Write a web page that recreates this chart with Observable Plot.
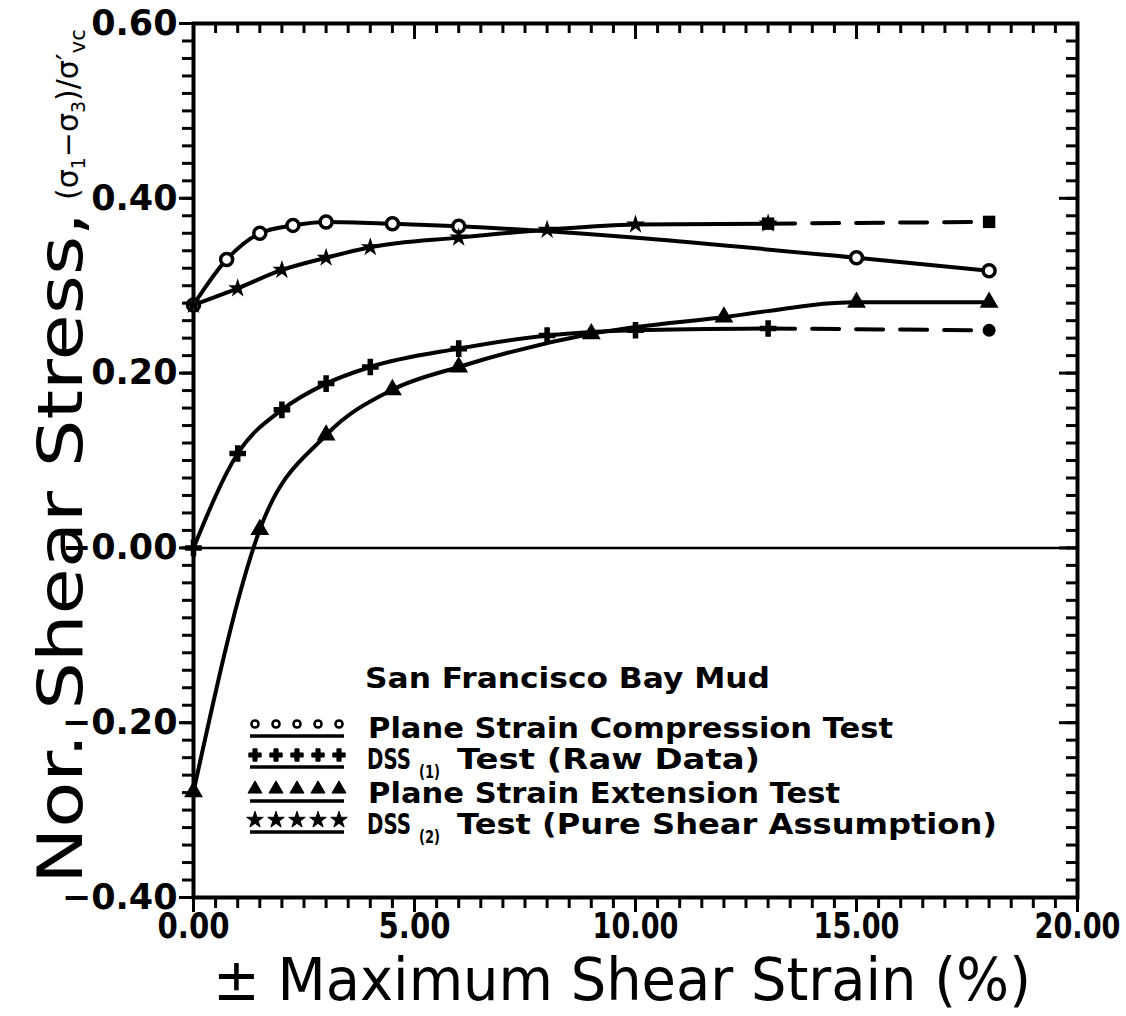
<!DOCTYPE html>
<html>
<head>
<meta charset="utf-8">
<script src="https://cdn.jsdelivr.net/npm/d3@7"></script>
<script src="https://cdn.jsdelivr.net/npm/@observablehq/plot@0.6"></script>
<style>
  html, body { margin: 0; padding: 0; background: #fff; }
  #chart svg { display: block; }
</style>
</head>
<body>
<div id="chart"></div>
<script>
// Plane strain compression test (open circles)
const pscStrain = [0, 0.75, 1.5, 2.25, 3, 4.5, 6, 15, 18];
const pscStress = [0.278, 0.330, 0.360, 0.369, 0.373, 0.371, 0.368, 0.332, 0.317];

// DSS(1) test, raw data (crosses); dashed extension ends with a dot
const dss1Strain = [0, 1, 2, 3, 4, 6, 8, 10, 13];
const dss1Stress = [0.0, 0.108, 0.158, 0.188, 0.207, 0.228, 0.243, 0.249, 0.251];
const dss1ExtStrain = [13, 18];
const dss1ExtStress = [0.251, 0.249];

// Plane strain extension test (triangles)
const pseStrain = [0, 1.5, 3, 4.5, 6, 9, 12, 15, 18];
const pseStress = [-0.279, 0.021, 0.129, 0.181, 0.207, 0.245, 0.264, 0.281, 0.281];

// DSS(2) test, pure shear assumption (stars); dashed extension ends with a square
const dss2Strain = [0, 1, 2, 3, 4, 6, 8, 10, 13];
const dss2Stress = [0.278, 0.297, 0.318, 0.332, 0.344, 0.355, 0.364, 0.370, 0.371];
const dss2ExtStrain = [13, 18];
const dss2ExtStress = [0.371, 0.373];

// Axis ticks and labels
const xMajor = [0, 5, 10, 15, 20];
const xLabels = ["0.00", "5.00", "10.00", "15.00", "20.00"];
const yMajor = [-0.4, -0.2, 0, 0.2, 0.4, 0.6];
const yLabels = ["\u22120.40", "\u22120.20", "\u22120.00", "0.20", "0.40", "0.60"];
const xMinor = d3.range(0, 20.0001, 0.5);
const yMinor = d3.range(-0.4, 0.6001, 0.02).map(v => +v.toFixed(2));

const pts = (xs, ys) => xs.map((x, i) => ({x, y: ys[i]}));
const psc = pts(pscStrain, pscStress);
const dss1 = pts(dss1Strain, dss1Stress);
const dss1Ext = pts(dss1ExtStrain, dss1ExtStress);
const pse = pts(pseStrain, pseStress);
const dss2 = pts(dss2Strain, dss2Stress);
const dss2Ext = pts(dss2ExtStrain, dss2ExtStress);

const W = 1126, H = 1016;
const M = {left: 193, right: 49, top: 23, bottom: 119};
const innerW = W - M.left - M.right;
const innerH = H - M.top - M.bottom;

const curveOpts = {x: "x", y: "y", curve: "monotone-x", stroke: "black", strokeWidth: 4};
const dashOpts = {x: "x", y: "y", stroke: "black", strokeWidth: 4, strokeDasharray: "27,17"};
const noText = () => "";

const chart = Plot.plot({
  width: W,
  height: H,
  marginLeft: M.left,
  marginRight: M.right,
  marginTop: M.top,
  marginBottom: M.bottom,
  style: {fontFamily: "DejaVu Sans", fontSize: "35px", fontWeight: "bold", color: "black", background: "white"},
  x: {domain: [0, 20]},
  y: {domain: [-0.4, 0.6]},
  marks: [
    // bottom axis (outward ticks)
    Plot.axisX(xMinor, {anchor: "bottom", tickSize: 11, tickFormat: noText, label: null, strokeWidth: 3}),
    Plot.axisX(xMajor, {anchor: "bottom", tickSize: 15, tickPadding: 1, label: null, strokeWidth: 3,
      tickFormat: (d, i) => xLabels[i]}),
    // left axis (outward ticks)
    Plot.axisY(yMinor, {anchor: "left", tickSize: 11, tickFormat: noText, label: null, strokeWidth: 3}),
    Plot.axisY(yMajor, {anchor: "left", tickSize: 14, tickPadding: 2, label: null, strokeWidth: 3,
      tickFormat: (d, i) => yLabels[i]}),
    // top edge: inward ticks
    Plot.tickX(xMinor, {x: d => d, insetBottom: innerH - 10, stroke: "black", strokeWidth: 3}),
    Plot.tickX(xMajor, {x: d => d, insetBottom: innerH - 16, stroke: "black", strokeWidth: 3}),
    // right edge: inward ticks
    Plot.tickY(yMinor, {y: d => d, insetLeft: innerW - 11, stroke: "black", strokeWidth: 3}),
    Plot.tickY(yMajor, {y: d => d, insetLeft: innerW - 18, stroke: "black", strokeWidth: 3}),
    Plot.frame({stroke: "black", strokeWidth: 4}),
    Plot.ruleY([0], {stroke: "black", strokeWidth: 2.5}),

    // curves
    Plot.line(psc, curveOpts),
    Plot.line(dss1, curveOpts),
    Plot.line(pse, curveOpts),
    Plot.line(dss2, curveOpts),
    Plot.line(dss1Ext, dashOpts),
    Plot.line(dss2Ext, dashOpts),

    // markers
    Plot.dot(psc, {x: "x", y: "y", symbol: "circle", r: 6, fill: "white", stroke: "black", strokeWidth: 3.5}),
    Plot.dot(dss1, {x: "x", y: "y", symbol: "cross", r: 7, fill: "black"}),
    Plot.dot(pse, {x: "x", y: "y", symbol: "triangle", r: 7, fill: "black"}),
    Plot.dot(dss2, {x: "x", y: "y", symbol: "star", r: 6, fill: "black"}),
    Plot.dot(dss1Ext.slice(1), {x: "x", y: "y", symbol: "circle", r: 6.5, fill: "black"}),
    Plot.dot(dss2Ext, {x: "x", y: "y", symbol: "square", r: 7, fill: "black"})
  ]
});

document.getElementById("chart").appendChild(chart);

const svg = d3.select(chart);

// narrower, taller x tick labels
svg.selectAll('[aria-label="x-axis tick label"] text')
  .attr("textLength", function () { return this.textContent.length > 4 ? 86 : 72; })
  .attr("lengthAdjust", "spacingAndGlyphs");

// ---- annotations: axis titles and legend ----
const ann = svg.append("g")
  .attr("font-family", "DejaVu Sans")
  .attr("text-anchor", "start")
  .attr("fill", "black");

function fitText(parent, str, x, y, len, size, weight) {
  return parent.append("text")
    .attr("x", x).attr("y", y)
    .attr("font-size", size)
    .attr("font-weight", weight)
    .attr("text-anchor", "start")
    .attr("textLength", len)
    .attr("lengthAdjust", "spacingAndGlyphs")
    .text(str);
}

// x-axis title
fitText(ann, "\u00B1 Maximum Shear Strain (%)", 213, 1000, 818, 58, "normal");

// y-axis title (rotated)
const yTitle = ann.append("g").attr("transform", "translate(82,884) rotate(-90)");
fitText(yTitle, "Nor. Shear Stress,", 0, 0, 672, 62, "normal");

const yUnit = ann.append("text")
  .attr("transform", "translate(78,200) rotate(-90)")
  .attr("text-anchor", "start")
  .attr("font-size", 30)
  .attr("font-weight", "normal");
yUnit.append("tspan").text("(\u03C3");
yUnit.append("tspan").attr("font-size", 19).attr("dy", 7).text("1");
yUnit.append("tspan").attr("dy", -7).text("\u2212\u03C3");
yUnit.append("tspan").attr("font-size", 19).attr("dy", 7).text("3");
yUnit.append("tspan").attr("dy", -7).text(")/\u03C3\u2032");
yUnit.append("tspan").attr("font-size", 21).attr("dy", 7).text("vc");

// legend
const legend = ann.append("g");
fitText(legend, "San Francisco Bay Mud", 365, 688, 405, 29, "bold");

const legendRows = [
  {symbol: d3.symbolCircle, hollow: true, base: 738, parts: [["Plane Strain Compression Test", 368, 525]]},
  {symbol: d3.symbolCross, base: 769, parts: [["DSS", 367, 44], ["(1)", 419, 21, true], ["Test (Raw Data)", 457, 303]]},
  {symbol: d3.symbolTriangle, base: 803, parts: [["Plane Strain Extension Test", 368, 472]]},
  {symbol: d3.symbolStar, base: 834, parts: [["DSS", 367, 44], ["(2)", 419, 21, true], ["Test (Pure Shear Assumption)", 457, 540]]}
];
const symX = [255, 276, 297, 318, 339];

legendRows.forEach(row => {
  const cy = row.base - 14;
  symX.forEach(sx => {
    legend.append("path")
      .attr("d", d3.symbol(row.symbol, row.hollow ? 40 : 85)())
      .attr("transform", `translate(${sx},${cy})`)
      .attr("fill", row.hollow ? "white" : "black")
      .attr("stroke", "black")
      .attr("stroke-width", row.hollow ? 2.5 : 1);
  });
  legend.append("line")
    .attr("x1", 250).attr("x2", 344)
    .attr("y1", row.base - 2).attr("y2", row.base - 2)
    .attr("stroke", "black").attr("stroke-width", 3.5);
  row.parts.forEach(([str, x, len, sub]) => {
    if (sub) fitText(legend, str, x, row.base + 9, len, 17, "bold");
    else fitText(legend, str, x, row.base, len, 29, "bold");
  });
});
</script>
</body>
</html>
